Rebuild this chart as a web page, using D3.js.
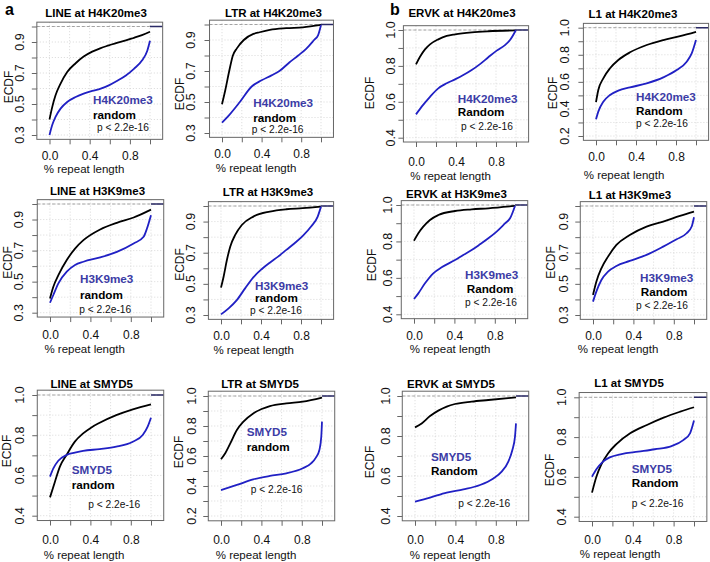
<!DOCTYPE html>
<html><head><meta charset="utf-8">
<script src="https://cdn.jsdelivr.net/npm/d3@7"></script>
<style>body{margin:0;background:#fff}svg{display:block}</style>
</head><body><svg id="c" width="710" height="562"></svg>
<script>
// ---------------- DATA ----------------
const titles = ["LINE at H4K20me3","LTR at H4K20me3","ERVK at H4K20me3","L1 at H4K20me3",
                "LINE at H3K9me3","LTR at H3K9me3","ERVK at H3K9me3","L1 at H3K9me3",
                "LINE at SMYD5","LTR at SMYD5","ERVK at SMYD5","L1 at SMYD5"];
const markLabels = ["H4K20me3","H4K20me3","H4K20me3","H4K20me3",
                    "H3K9me3","H3K9me3","H3K9me3","H3K9me3",
                    "SMYD5","SMYD5","SMYD5","SMYD5"];
const controlLabels = ["random","random","Random","Random",
                       "random","random","Random","Random",
                       "random","random","Random","Random"];
const pLabel = "p < 2.2e-16";
const panelLetters = ["a","b"];
const yMins = [0.3,0.3,0.4,0.2, 0.3,0.3,0.4,0.3, 0.4,0.2,0.4,0.4];
const yTickLabels = [[0.3,0.5,0.7,0.9],[0.3,0.5,0.7,0.9],[0.4,0.6,0.8,1.0],[0.2,0.4,0.6,0.8,1.0],
                     [0.3,0.5,0.7,0.9],[0.3,0.5,0.7,0.9],[0.4,0.6,0.8,1.0],[0.3,0.5,0.7,0.9],
                     [0.4,0.6,0.8,1.0],[0.2,0.4,0.6,0.8,1.0],[0.4,0.6,0.8,1.0],[0.4,0.6,0.8,1.0]];
const xTickValues = [0,0.2,0.4,0.6,0.8,1.0];
const xTickLabels = [0.0,0.4,0.8];

// ECDF curves: [x, F(x)]
const lineH4K20Mark = [[0,0.30],[0.027,0.364],[0.06,0.417],[0.11,0.47],[0.176,0.513],[0.26,0.545],[0.34,0.567],[0.425,0.584],[0.51,0.599],[0.59,0.62],[0.67,0.648],[0.76,0.684],[0.84,0.727],[0.92,0.78],[0.973,0.844],[1,0.908]];
const lineH4K20Rand = [[0,0.40],[0.027,0.48],[0.06,0.556],[0.11,0.631],[0.176,0.706],[0.26,0.763],[0.34,0.806],[0.425,0.838],[0.51,0.861],[0.59,0.878],[0.67,0.895],[0.76,0.91],[0.84,0.927],[0.92,0.944],[1,0.966]];
const ltrH4K20Mark = [[0,0.367],[0.07,0.414],[0.18,0.50],[0.30,0.60],[0.40,0.64],[0.50,0.672],[0.58,0.70],[0.68,0.755],[0.77,0.80],[0.85,0.843],[0.93,0.90],[0.97,0.93],[1,0.997]];
const ltrH4K20Rand = [[0,0.486],[0.033,0.576],[0.073,0.70],[0.11,0.80],[0.15,0.846],[0.22,0.90],[0.317,0.939],[0.38,0.95],[0.483,0.965],[0.65,0.976],[0.817,0.982],[1,0.997]];
const ervkH4K20Mark = [[0,0.53],[0.057,0.573],[0.14,0.628],[0.223,0.675],[0.307,0.703],[0.39,0.725],[0.473,0.749],[0.557,0.777],[0.64,0.81],[0.723,0.848],[0.807,0.885],[0.89,0.916],[0.94,0.944],[1,1.0]];
const ervkH4K20Rand = [[0,0.809],[0.04,0.851],[0.09,0.892],[0.14,0.92],[0.223,0.948],[0.307,0.967],[0.39,0.976],[0.557,0.987],[0.723,0.993],[1,0.998]];
const l1H4K20Mark = [[0,0.323],[0.023,0.38],[0.073,0.453],[0.14,0.503],[0.223,0.535],[0.34,0.559],[0.507,0.589],[0.673,0.633],[0.807,0.687],[0.907,0.749],[0.957,0.81],[1,0.909]];
const l1H4K20Rand = [[0,0.45],[0.023,0.54],[0.073,0.626],[0.14,0.70],[0.223,0.761],[0.34,0.818],[0.507,0.872],[0.673,0.909],[0.84,0.938],[1,0.97]];

const lineH3K9Mark = [[0,0.364],[0.033,0.414],[0.083,0.489],[0.166,0.564],[0.248,0.607],[0.331,0.628],[0.497,0.656],[0.662,0.692],[0.828,0.746],[0.927,0.789],[0.96,0.842],[1,0.928]];
const lineH3K9Rand = [[0,0.392],[0.033,0.467],[0.083,0.542],[0.166,0.639],[0.248,0.713],[0.331,0.767],[0.497,0.836],[0.662,0.879],[0.828,0.913],[1,0.964]];
const ltrH3K9Mark = [[0,0.304],[0.076,0.343],[0.158,0.396],[0.241,0.471],[0.323,0.542],[0.406,0.594],[0.488,0.636],[0.571,0.675],[0.653,0.718],[0.736,0.761],[0.818,0.808],[0.901,0.868],[0.967,0.932],[1,0.996]];
const ltrH3K9Rand = [[0,0.476],[0.026,0.546],[0.059,0.653],[0.092,0.739],[0.142,0.814],[0.208,0.878],[0.323,0.932],[0.488,0.964],[0.653,0.979],[0.818,0.986],[1,0.996]];
const ervkH3K9Mark = [[0,0.484],[0.043,0.515],[0.109,0.57],[0.191,0.625],[0.274,0.658],[0.406,0.698],[0.488,0.726],[0.571,0.753],[0.653,0.784],[0.736,0.817],[0.818,0.854],[0.901,0.899],[0.951,0.927],[1,0.995]];
const ervkH3K9Rand = [[0,0.804],[0.043,0.845],[0.092,0.881],[0.158,0.918],[0.241,0.945],[0.406,0.967],[0.571,0.976],[0.736,0.982],[1,0.995]];
const l1H3K9Mark = [[0,0.386],[0.033,0.45],[0.083,0.525],[0.149,0.579],[0.232,0.615],[0.364,0.647],[0.53,0.686],[0.695,0.739],[0.828,0.786],[0.927,0.825],[0.977,0.868],[1,0.928]];
const l1H3K9Rand = [[0,0.429],[0.033,0.514],[0.083,0.60],[0.149,0.675],[0.232,0.75],[0.364,0.814],[0.53,0.868],[0.695,0.90],[0.861,0.936],[1,0.964]];

const lineSMYD5Mark = [[0,0.594],[0.033,0.635],[0.082,0.673],[0.164,0.702],[0.246,0.713],[0.328,0.722],[0.492,0.731],[0.656,0.743],[0.82,0.768],[0.918,0.801],[0.967,0.843],[1,0.887]];
const lineSMYD5Rand = [[0,0.491],[0.049,0.569],[0.098,0.644],[0.164,0.702],[0.246,0.768],[0.328,0.809],[0.41,0.839],[0.492,0.862],[0.656,0.90],[0.82,0.929],[1,0.954]];
const ltrSMYD5Mark = [[0,0.373],[0.157,0.407],[0.319,0.444],[0.484,0.467],[0.647,0.484],[0.81,0.518],[0.892,0.551],[0.941,0.591],[0.974,0.64],[0.993,0.729],[1,0.829]];
const ltrSMYD5Rand = [[0,0.578],[0.042,0.618],[0.092,0.684],[0.157,0.773],[0.222,0.829],[0.319,0.884],[0.402,0.913],[0.484,0.933],[0.647,0.951],[0.81,0.962],[1,0.989]];
const ervkSMYD5Mark = [[0,0.472],[0.149,0.492],[0.314,0.517],[0.479,0.533],[0.644,0.555],[0.776,0.588],[0.858,0.622],[0.924,0.672],[0.964,0.73],[0.99,0.797],[1,0.863]];
const ervkSMYD5Rand = [[0,0.843],[0.066,0.863],[0.149,0.90],[0.231,0.927],[0.314,0.947],[0.396,0.96],[0.561,0.972],[0.726,0.98],[1,0.993]];
const l1SMYD5Mark = [[0,0.601],[0.043,0.638],[0.108,0.677],[0.174,0.698],[0.289,0.715],[0.452,0.727],[0.616,0.739],[0.78,0.755],[0.895,0.785],[0.961,0.819],[1,0.883]];
const l1SMYD5Rand = [[0,0.521],[0.043,0.601],[0.092,0.663],[0.157,0.718],[0.239,0.765],[0.374,0.819],[0.538,0.861],[0.702,0.898],[0.866,0.928],[1,0.95]];

const markSeries = [lineH4K20Mark,ltrH4K20Mark,ervkH4K20Mark,l1H4K20Mark,
                    lineH3K9Mark,ltrH3K9Mark,ervkH3K9Mark,l1H3K9Mark,
                    lineSMYD5Mark,ltrSMYD5Mark,ervkSMYD5Mark,l1SMYD5Mark];
const randomSeries = [lineH4K20Rand,ltrH4K20Rand,ervkH4K20Rand,l1H4K20Rand,
                      lineH3K9Rand,ltrH3K9Rand,ervkH3K9Rand,l1H3K9Rand,
                      lineSMYD5Rand,ltrSMYD5Rand,ervkSMYD5Rand,l1SMYD5Rand];

// ---------------- LAYOUT (pixel positions) ----------------
const layout = [
 {px0:49.5,px1:150,pyMin:135,py1:26.5, tX:96,tY:17, yLX:19.5, eX:8.5,eY:87, xtY:160, xlX:84,xlY:172.5, leg:[[93,104],[93,119.3],[97,131]]},
 {px0:222,px1:321,pyMin:133,py1:24.5, tX:273.5,tY:16.7, yLX:190, eX:180,eY:94, xtY:158.5, xlX:256,xlY:171.5, leg:[[253.3,107.3],[253.3,121.7],[251.7,133.3]]},
 {px0:416,px1:516,pyMin:137.7,py1:30, tX:462,tY:17.3, yLX:390, eX:370,eY:93, xtY:166, xlX:450.5,xlY:179.5, leg:[[457.7,102.7],[457.7,116],[461,130]]},
 {px0:596,px1:696,pyMin:136,py1:27.7, tX:633,tY:18.3, yLX:564, eX:553,eY:93, xtY:161.5, xlX:624,xlY:178.5, leg:[[636,101],[636,115.3],[636,126.7]]},
 {px0:50,px1:151,pyMin:312.7,py1:204, tX:97.5,tY:195, yLX:18, eX:8,eY:262.5, xtY:339, xlX:84.7,xlY:353, leg:[[80,283.3],[80,299.3],[79.3,312.7]]},
 {px0:221,px1:321,pyMin:315,py1:206, tX:268,tY:196, yLX:190, eX:180,eY:264.5, xtY:340.5, xlX:253.7,xlY:353.5, leg:[[255,289.5],[255,302],[250,314.3]]},
 {px0:414,px1:515,pyMin:314.3,py1:205, tX:456.5,tY:198, yLX:387, eX:372,eY:265, xtY:340, xlX:450,xlY:353, leg:[[465,279.3],[466.7,292.7],[465,306]]},
 {px0:593,px1:694,pyMin:315,py1:206, tX:630,tY:199.3, yLX:563, eX:551,eY:262.5, xtY:340, xlX:618,xlY:353, leg:[[640,282.3],[640.7,296],[636,309.3]]},
 {px0:50,px1:151,pyMin:515.7,py1:395, tX:91.7,tY:388, yLX:19, eX:7,eY:451, xtY:544, xlX:84,xlY:558.5, leg:[[71.7,474],[71.7,489],[88.3,508.3]]},
 {px0:221,px1:322,pyMin:516,py1:396, tX:260,tY:388.3, yLX:191, eX:178.5,eY:452, xtY:544.5, xlX:256,xlY:558.5, leg:[[246.7,436],[246.7,451],[250.7,492.7]]},
 {px0:415,px1:516,pyMin:516,py1:396, tX:451,tY:388, yLX:385, eX:370,eY:462, xtY:544.5, xlX:450,xlY:558.5, leg:[[431,461],[431,475],[458.3,506.7]]},
 {px0:592,px1:694,pyMin:516.7,py1:397.3, tX:629,tY:386.7, yLX:561, eX:550,eY:470, xtY:544.5, xlX:620,xlY:558, leg:[[631.7,472.7],[631.7,487.3],[631.7,506.7]]}
];
const letterPos = [[5,15],[390,15]];

const FONT = "'Liberation Sans', Arial, Helvetica, sans-serif";
const MARK_TEXT = "#3c3ca6", MARK_LINE = "#2020c4", FRAME = "#666";
const svg = d3.select("#c").style("font-family", FONT);
svg.append("rect").attr("width",710).attr("height",562).attr("fill","#fff");
const defs = svg.append("defs");

titles.forEach((title, i) => {
  const L = layout[i], ymin = yMins[i];
  const x = d3.scaleLinear().domain([0,1]).range([L.px0, L.px1]);
  const y = d3.scaleLinear().domain([ymin,1]).range([L.pyMin, L.py1]);
  const ext = 0.04*(1-ymin);
  const bx0 = x(-0.126), bx1 = x(1.126), byB = y(ymin-ext), byT = y(1+ext);
  const g = svg.append("g");

  defs.append("clipPath").attr("id","clip"+i).append("rect")
    .attr("x",bx0).attr("y",byT).attr("width",bx1-bx0).attr("height",byB-byT);

  // grid
  const gridY = d3.range(Math.round(ymin*10), 11).map(k => k/10);
  g.selectAll(".gy").data(gridY).join("line")
    .attr("x1",bx0).attr("x2",bx1).attr("y1",d=>y(d)).attr("y2",d=>y(d))
    .attr("stroke","#cfcfcf").attr("stroke-width",0.8).attr("stroke-dasharray","1,2");
  g.selectAll(".gx").data(xTickValues).join("line")
    .attr("y1",byT).attr("y2",byB).attr("x1",d=>x(d)).attr("x2",d=>x(d))
    .attr("stroke","#cfcfcf").attr("stroke-width",0.8).attr("stroke-dasharray","1,2");
  g.append("line").attr("x1",bx0).attr("x2",bx1).attr("y1",y(1)).attr("y2",y(1))
    .attr("stroke","#9a9a9a").attr("stroke-width",0.9).attr("stroke-dasharray","3,2");

  // curves
  const cg = g.append("g").attr("clip-path",`url(#clip${i})`);
  const line = d3.line().x(d=>x(d[0])).y(d=>y(d[1])).curve(d3.curveMonotoneX);
  cg.append("path").attr("d", line(randomSeries[i])).attr("fill","none")
    .attr("stroke","#000").attr("stroke-width",1.8);
  cg.append("path").attr("d", line(markSeries[i])).attr("fill","none")
    .attr("stroke",MARK_LINE).attr("stroke-width",1.8);
  cg.append("line").attr("x1",x(1)).attr("x2",bx1).attr("y1",y(1)).attr("y2",y(1))
    .attr("stroke","#2a2a66").attr("stroke-width",1.6);

  // box
  g.append("rect").attr("x",bx0).attr("y",byT).attr("width",bx1-bx0).attr("height",byB-byT)
    .attr("fill","none").attr("stroke",FRAME).attr("stroke-width",1);

  // x axis ticks + labels
  const xfs = 12;
  const xa = d3.axisBottom(x).tickValues(xTickValues).tickSize(5)
    .tickPadding(L.xtY - byB - 5 - 0.71*xfs)
    .tickFormat(v => xTickLabels.some(t => Math.abs(t-v)<1e-9) ? d3.format(".1f")(v) : "");
  const xg = g.append("g").attr("transform",`translate(0,${byB})`).call(xa);
  xg.select(".domain").remove();
  xg.selectAll("line").attr("stroke",FRAME);
  xg.selectAll("text").attr("font-size",xfs).attr("font-family",FONT).attr("fill","#111");

  // y axis ticks
  const ya = d3.axisLeft(y).tickValues(gridY).tickSize(5).tickFormat("");
  const yg = g.append("g").attr("transform",`translate(${bx0},0)`).call(ya);
  yg.select(".domain").remove();
  yg.selectAll("line").attr("stroke",FRAME);
  g.selectAll(".yl").data(yTickLabels[i]).join("text")
    .attr("transform", d => `translate(${L.yLX},${y(d)}) rotate(-90)`)
    .attr("text-anchor","middle").attr("dy","0.36em")
    .attr("font-size",12.5).attr("fill","#111").text(d => d3.format(".1f")(d));

  g.append("text").attr("x",L.tX).attr("y",L.tY).attr("text-anchor","middle")
    .attr("font-weight","bold").attr("font-size",11.5).attr("fill","#000").text(title);
  g.append("text").attr("x",L.xlX).attr("y",L.xlY).attr("text-anchor","middle")
    .attr("font-size",11.5).attr("fill","#111").text("% repeat length");
  g.append("text").attr("transform",`translate(${L.eX},${L.eY}) rotate(-90)`)
    .attr("text-anchor","middle").attr("dy","0.36em")
    .attr("font-size",12).attr("fill","#111").text("ECDF");

  const leg = L.leg;
  g.append("text").attr("x",leg[0][0]).attr("y",leg[0][1]).attr("font-weight","bold")
    .attr("font-size",11.7).attr("fill",MARK_TEXT).text(markLabels[i]);
  g.append("text").attr("x",leg[1][0]).attr("y",leg[1][1]).attr("font-weight","bold")
    .attr("font-size",11.7).attr("fill","#000").text(controlLabels[i]);
  g.append("text").attr("x",leg[2][0]).attr("y",leg[2][1])
    .attr("font-size",10.2).attr("fill","#111").text(pLabel);
});

panelLetters.forEach((t,k) => {
  svg.append("text").attr("x",letterPos[k][0]).attr("y",letterPos[k][1])
    .attr("font-weight","bold").attr("font-size",16).attr("fill","#000").text(t);
});
</script></body></html>
